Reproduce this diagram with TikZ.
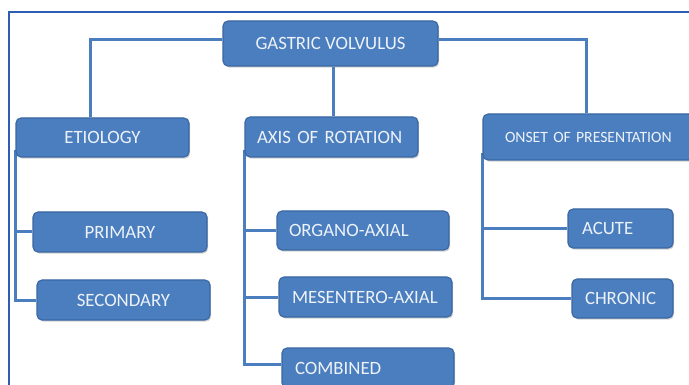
\documentclass[tikz,border=0pt]{standalone}
\usepackage{fontspec}
\setmainfont{Carlito}
\usetikzlibrary{shadows,backgrounds}
\definecolor{boxfill}{HTML}{4A7EBF}
\definecolor{boxdraw}{HTML}{3A66A2}
\definecolor{linec}{HTML}{4A7EBF}
\definecolor{framec}{HTML}{2E5DB2}
\definecolor{txtc}{HTML}{EDF2F9}
\tikzset{
  bx/.style={draw=boxdraw, line width=1.1pt, fill=boxfill, rounded corners=5pt,
    text=txtc, font=\fontsize{18.8}{21}\selectfont, inner ysep=0pt,
    drop shadow={shadow xshift=1.2pt, shadow yshift=-1.6pt, opacity=0.35}},
  lbx/.style={bx, align=left},
  conn/.style={draw=linec, line width=3pt}
}
\begin{document}
\begin{tikzpicture}[x=1pt,y=-1pt]
\useasboundingbox (0,0) rectangle (689,385);
\clip (0,0) rectangle (689,385);
\draw[framec, line width=1.5pt] (9,400) -- (9,12) -- (700,12);

\node[bx, minimum width=215pt, minimum height=45pt] (root) at (330.5,43.5) {GASTRIC VOLVULUS};
\node[bx, minimum width=173pt, minimum height=39pt] (etio) at (102.5,137.5) {ETIOLOGY};
\node[lbx, inner xsep=12pt, text width=149pt, minimum height=40pt] (axis) at (331.5,137) {AXIS OF ROTATION};
\node[lbx, inner xsep=22pt, text width=173pt, minimum height=46pt, font=\fontsize{15.7}{18}\selectfont] (onset) at (591.5,137) {ONSET OF PRESENTATION};
\node[bx, minimum width=174pt, minimum height=40pt] (prim) at (120,232) {PRIMARY};
\node[bx, minimum width=173pt, minimum height=40pt] (sec) at (123.5,300) {SECONDARY};
\node[lbx, inner xsep=12pt, text width=148pt, minimum height=39pt] (organo) at (363,230.5) {ORGANO-AXIAL};
\node[lbx, inner xsep=13pt, text width=147pt, minimum height=40pt] (meso) at (365.5,297) {MESENTERO-AXIAL};
\node[lbx, inner xsep=13pt, text width=146pt, minimum height=40pt] (comb) at (368,368) {COMBINED};
\node[lbx, inner xsep=14pt, text width=77pt, minimum height=39pt] (acute) at (620.5,228.5) {ACUTE};
\node[lbx, inner xsep=13pt, text width=75pt, minimum height=39pt] (chron) at (622.5,298.5) {CHRONIC};

\begin{pgfonlayer}{background}
\draw[conn] ([yshift=3.5pt]root.west) -| ([xshift=-12.5pt]etio.north);
\draw[conn] ([yshift=3.5pt]root.east) -| ([xshift=-5pt]onset.north);
\draw[conn] ([xshift=3pt]root.south) -- ([xshift=3pt]root.south |- axis.north);
\draw[conn] ([yshift=8pt]etio.south west) |- (prim.west);
\draw[conn] ([yshift=8pt]etio.south west) |- (sec.west);
\draw[conn] ([yshift=8pt]axis.south west) |- (organo.west);
\draw[conn] ([yshift=8pt]axis.south west) |- (meso.west);
\draw[conn] ([yshift=8pt]axis.south west) |- ([yshift=4pt]comb.west);
\draw[conn] ([yshift=8pt]onset.south west) |- (acute.west);
\draw[conn] ([yshift=8pt]onset.south west) |- (chron.west);
\end{pgfonlayer}
\end{tikzpicture}
\end{document}
